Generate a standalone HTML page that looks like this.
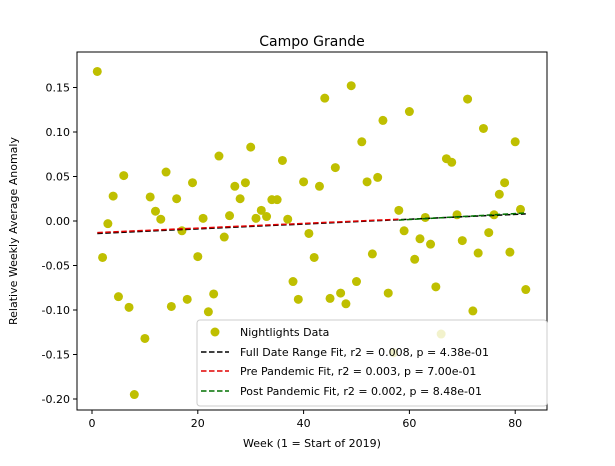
<!DOCTYPE html>
<html><head><meta charset="utf-8"><style>
body{margin:0;background:#fff;}
svg text{font-family:"DejaVu Sans","Liberation Sans",sans-serif;}
</style></head><body>
<svg id="chart" width="615" height="461" viewBox="0 0 615 461">
<rect width="615" height="461" fill="#fff"/>
<text x="312" y="46" font-size="14" text-anchor="middle">Campo Grande</text>
<g id="marks"></g>
<rect x="77" y="52" width="470" height="358" fill="none" stroke="#000" stroke-width="1"/>
<g id="xticks"></g><g id="yticks"></g>
<text x="312" y="447" font-size="11" text-anchor="middle">Week (1 = Start of 2019)</text>
<text x="17" y="231" font-size="11" text-anchor="middle" transform="rotate(-90 17 231)">Relative Weekly Average Anomaly</text>
<g>
<rect x="197" y="320" width="350" height="86" rx="3" fill="#fff" fill-opacity="0.8" stroke="#ccc"/>
<circle cx="215" cy="332" r="4.5" fill="#bfbf00"/>
<text x="240" y="336" font-size="11">Nightlights Data</text>
<line x1="201" y1="352" x2="229" y2="352" stroke="#000" stroke-width="1.5" stroke-dasharray="5.5,2.5"/>
<text x="240" y="356" font-size="11">Full Date Range Fit, r2 = 0.008, p = 4.38e-01</text>
<line x1="201" y1="371" x2="229" y2="371" stroke="#e00000" stroke-width="1.5" stroke-dasharray="5.5,2.5"/>
<text x="240" y="375" font-size="11">Pre Pandemic Fit, r2 = 0.003, p = 7.00e-01</text>
<line x1="201" y1="391" x2="229" y2="391" stroke="#007000" stroke-width="1.5" stroke-dasharray="5.5,2.5"/>
<text x="240" y="395" font-size="11">Post Pandemic Fit, r2 = 0.002, p = 8.48e-01</text>
</g>
</svg>
<script>
const weeks=[1,2,3,4,5,6,7,8,10,11,12,13,14,15,16,17,18,19,20,21,22,23,24,25,26,27,28,29,30,31,32,33,34,35,36,37,38,39,40,41,42,43,44,45,46,47,48,49,50,51,52,53,54,55,56,57,58,59,60,61,62,63,64,65,66,67,68,69,70,71,72,73,74,75,76,77,78,79,80,81,82];
const values=[0.168,-0.041,-0.003,0.028,-0.085,0.051,-0.097,-0.195,-0.132,0.027,0.011,0.002,0.055,-0.096,0.025,-0.011,-0.088,0.043,-0.040,0.003,-0.102,-0.082,0.073,-0.018,0.006,0.039,0.025,0.043,0.083,0.003,0.012,0.005,0.024,0.024,0.068,0.002,-0.068,-0.088,0.044,-0.014,-0.041,0.039,0.138,-0.087,0.060,-0.081,-0.093,0.152,-0.068,0.089,0.044,-0.037,0.049,0.113,-0.081,-0.148,0.012,-0.011,0.123,-0.043,-0.020,0.004,-0.026,-0.074,-0.127,0.070,0.066,0.007,-0.022,0.137,-0.101,-0.036,0.104,-0.013,0.007,0.030,0.043,-0.035,0.089,0.013,-0.077];
const fullFit=[[1,-0.014],[82,0.008]];
const preFit=[[1,-0.013],[58,0.002]];
const postFit=[[58,0.001],[82,0.009]];
const xTicks=[0,20,40,60,80];
const yTicks=[0.15,0.10,0.05,0.00,-0.05,-0.10,-0.15,-0.20];
const X=w=>92+5.29*w;
const Y=v=>221-890*v;
const NS='http://www.w3.org/2000/svg';
const marks=document.getElementById('marks');
function mk(tag,attrs,parent){const e=document.createElementNS(NS,tag);for(const k in attrs)e.setAttribute(k,attrs[k]);parent.appendChild(e);return e;}
weeks.forEach((w,i)=>{
 const c=mk('circle',{cx:X(w),cy:Y(values[i]),r:4.5,fill:'#bfbf00'},marks);
 
 
});
[[fullFit,'#000','fit-full'],[preFit,'#e00000','fit-pre'],[postFit,'#007000','fit-post']].forEach(([f,col,n])=>{
 const l=mk('line',{x1:X(f[0][0]),y1:Y(f[0][1]),x2:X(f[1][0]),y2:Y(f[1][1]),stroke:col,'stroke-width':1.5,'stroke-dasharray':'5.5,2.5'},marks);
 
 
});
const xg=document.getElementById('xticks');
xTicks.forEach(t=>{
 const l=mk('line',{x1:X(t),x2:X(t),y1:410,y2:414,stroke:'#000'},xg);
 
 
 const tx=mk('text',{x:X(t),y:427,'font-size':11,'text-anchor':'middle'},xg);
 tx.textContent=t;
 
 
});
const yg=document.getElementById('yticks');
yTicks.forEach(t=>{
 const l=mk('line',{x1:73,x2:77,y1:Y(t),y2:Y(t),stroke:'#000'},yg);
 
 
 const tx=mk('text',{x:70,y:Y(t)+4,'font-size':11,'text-anchor':'end'},yg);
 tx.textContent=t.toFixed(2);
 
 
});
</script>
</body></html>
